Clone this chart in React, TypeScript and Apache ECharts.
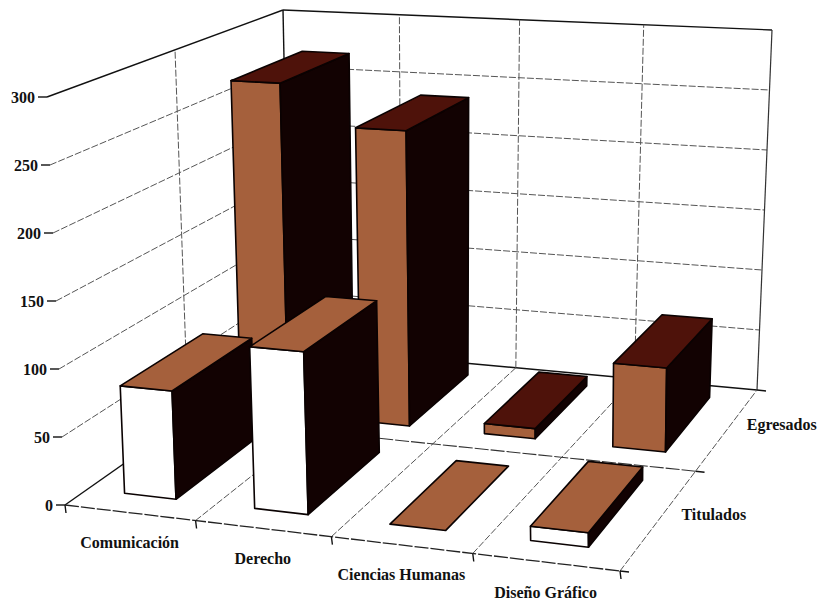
import React, { useEffect, useRef } from "react";
import * as echarts from "echarts";

const categories = ["Comunicación", "Derecho", "Ciencias Humanas", "Diseño Gráfico"];
const rows = ["Titulados", "Egresados"];
const titulados = [80, 118, 0, 10];
const egresados = [270, 237, 8, 65];
const valueTicks = [0, 50, 100, 150, 200, 250, 300];

const floorQuad = [[65, 505], [620, 571], [757, 390], [290, 347]];
const topQuad = [[47, 97], [615, 128], [772, 30], [283, 10]];
const BAR_U = [0.29, 0.69];
const BAR_W = [0.17, 0.85];
const MAXV = 300;
const FONT = 'bold 16px "Liberation Serif"';
const BROWN = "#a5603c";
const DARK = "#120202";
const MAROON = "#4e120a";

function homography(q: number[][]) {
  const [[x0, y0], [x1, y1], [x2, y2], [x3, y3]] = q;
  const dx1 = x1 - x2, dx2 = x3 - x2, dy1 = y1 - y2, dy2 = y3 - y2;
  const sx = x0 - x1 + x2 - x3, sy = y0 - y1 + y2 - y3;
  const den = dx1 * dy2 - dx2 * dy1;
  const g = (sx * dy2 - dx2 * sy) / den, h = (dx1 * sy - sx * dy1) / den;
  const a = x1 - x0 + g * x1, b = x3 - x0 + h * x3, d = y1 - y0 + g * y1, e = y3 - y0 + h * y3;
  return (u: number, w: number) => {
    const k = g * u + h * w + 1;
    return [(a * u + b * w + x0) / k, (d * u + e * w + y0) / k];
  };
}
const floorH = homography(floorQuad);
const topH = homography(topQuad);

// u: 0..1 along categories, w: 0..1 along depth, v: axis value
function project(u: number, w: number, v: number) {
  const p = floorH(u, w), q = topH(u, w), t = v / MAXV;
  return [p[0] + (q[0] - p[0]) * t, p[1] + (q[1] - p[1]) * t];
}

const solid = { stroke: "#111", lineWidth: 1.4 };
const dashed = { stroke: "#555", lineWidth: 1, lineDash: [7, 2] };

function seg(api: any, a: number[], b: number[], style: any) {
  const p = api.coord(a), q = api.coord(b);
  return { type: "line", shape: { x1: p[0], y1: p[1], x2: q[0], y2: q[1] }, style };
}
function txt(api: any, pos: number[], text: string, align: string) {
  const p = api.coord(pos);
  return { type: "text", style: { text, x: p[0], y: p[1], align, verticalAlign: "middle", font: FONT, fill: "#111" } };
}

function renderValueTick(_: any, api: any) {
  const v = api.value(0);
  const a = project(0, 0, v), b = project(0, 1, v), c = project(1, 1, v);
  const inner = v > 0 && v < MAXV ? dashed : solid;
  return {
    type: "group",
    children: [
      seg(api, [a[0] - 9, a[1]], a, solid),
      txt(api, [a[0] - 12, a[1]], String(v), "right"),
      seg(api, a, b, inner),
      seg(api, b, c, inner),
    ],
  };
}

function renderCategoryLine(_: any, api: any) {
  const i = api.value(0);
  const n = categories.length;
  const u = i / n;
  const children: any[] = [];
  if (i > 0) children.push(seg(api, project(u, 0, 0), project(u, 1, 0), dashed));
  children.push(seg(api, project(u, 1, 0), project(u, 1, MAXV), i === 0 ? solid : i === n ? { stroke: "#333", lineWidth: 1.2 } : dashed));
  const f = project(u, 0, 0);
  children.push(seg(api, f, [f[0] + 1, f[1] + 8], solid));
  if (i < n) {
    const m = project(u + 0.5 / n, 0, 0);
    children.push(txt(api, [m[0], m[1] + 30], categories[i], "center"));
  }
  return { type: "group", children };
}

function renderRowLine(_: any, api: any) {
  const j = api.value(0);
  const n = rows.length;
  const w = j / n;
  const children: any[] = [];
  const e = project(1, w, 0);
  if (j === 0) {
    children.push(seg(api, project(0, w, 0), e, { stroke: "#222", lineWidth: 1.3, lineDash: [14, 2] }));
  } else if (j < n) {
    children.push(seg(api, project(0, w, 0), e, { stroke: "#333", lineWidth: 1.1, lineDash: [14, 2] }));
    children.push(seg(api, project(0, w, 0), project(0, w, MAXV), dashed));
  }
  children.push(seg(api, e, [e[0] + 9, e[1] + 1], solid));
  if (j < n) {
    const m = project(1, w + 0.5 / n, 0);
    children.push(txt(api, [m[0] + 54, m[1] - 4], rows[j], "center"));
  }
  return { type: "group", children };
}

function makeBarRenderer(row: number, frontFill: string, topFill: string) {
  return (_: any, api: any) => {
    const i = api.value(0), v = api.value(1);
    const nc = categories.length, nr = rows.length;
    const u0 = (i + BAR_U[0]) / nc, u1 = (i + BAR_U[1]) / nc;
    const w0 = (row + BAR_W[0]) / nr, w1 = (row + BAR_W[1]) / nr;
    const poly = (pts: number[][], fill: string) => ({
      type: "polygon",
      shape: { points: pts.map((p) => api.coord(p)) },
      style: { fill, stroke: "#0a0202", lineWidth: 1.6, lineJoin: "round" },
    });
    const top = poly([project(u0, w0, v), project(u1, w0, v), project(u1, w1, v), project(u0, w1, v)], topFill);
    if (v <= 0) return { type: "group", children: [top] };
    return {
      type: "group",
      children: [
        poly([project(u0, w0, 0), project(u1, w0, 0), project(u1, w0, v), project(u0, w0, v)], frontFill),
        poly([project(u1, w0, 0), project(u1, w1, 0), project(u1, w1, v), project(u1, w0, v)], DARK),
        top,
      ],
    };
  };
}

function custom(data: any[], renderItem: any, name: string) {
  return {
    type: "custom",
    name,
    coordinateSystem: "cartesian2d",
    clip: false,
    silent: true,
    encode: { x: 0, y: 1 },
    data,
    renderItem,
  };
}

export default function App() {
  const ref = useRef<HTMLDivElement>(null);
  useEffect(() => {
    const chart = echarts.init(ref.current!, null, { renderer: "svg" });
    chart.setOption({
      animation: false,
      backgroundColor: "#fff",
      grid: { left: 0, right: 0, top: 0, bottom: 0 },
      xAxis: { type: "value", min: 0, max: 819, show: false },
      yAxis: { type: "value", min: 0, max: 600, inverse: true, show: false },
      series: [
        custom(valueTicks.map((v) => [v, 0]), renderValueTick, "values"),
        custom([0, 1, 2, 3, 4].map((i) => [i, 0]), renderCategoryLine, "categories"),
        custom([0, 1, 2].map((j) => [j, 0]), renderRowLine, "rows"),
        custom(egresados.map((v, i) => [i, v]), makeBarRenderer(1, BROWN, MAROON), rows[1]),
        custom(titulados.map((v, i) => [i, v]), makeBarRenderer(0, "#ffffff", BROWN), rows[0]),
      ],
    });
    return () => chart.dispose();
  }, []);
  return <div ref={ref} style={{ position: "absolute", left: 0, top: 0, width: 819, height: 600 }} />;
}
